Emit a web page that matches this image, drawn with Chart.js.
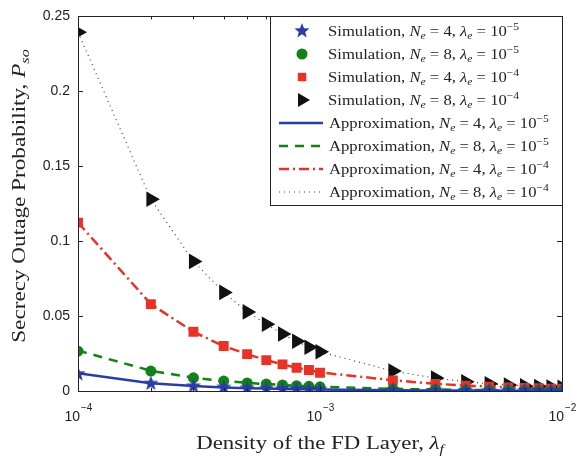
<!DOCTYPE html>
<html>
<head>
<meta charset="utf-8">
<script src="https://cdn.jsdelivr.net/npm/chart.js@4.4.0/dist/chart.umd.min.js"></script>
<style>
html, body { margin: 0; padding: 0; background: #fff; }
</style>
</head>
<body>
<canvas id="myChart" width="577" height="459"></canvas>
<script>
// x values (density of the FD layer)
let lambdaF = [1e-4, 2e-4, 3e-4, 4e-4, 5e-4, 6e-4, 7e-4, 8e-4, 9e-4, 1e-3,
    2e-3, 3e-3, 4e-3, 5e-3, 6e-3, 7e-3, 8e-3, 9e-3, 1e-2];

// simulation points
let simNe4L5 = [0.0113, 0.0050, 0.0032, 0.0024, 0.0019, 0.0016, 0.0013, 0.0012, 0.0011, 0.0010,
    0.0005, 0.0003, 0.0003, 0.0002, 0.0002, 0.0002, 0.0001, 0.0001, 0.0001];
let simNe8L5 = [0.0266, 0.0133, 0.0088, 0.0066, 0.0054, 0.0046, 0.0040, 0.0035, 0.0031, 0.0028,
    0.0014, 0.0010, 0.0007, 0.0006, 0.0005, 0.0004, 0.0004, 0.0003, 0.0003];
let simNe4L4 = [0.1124, 0.0580, 0.0395, 0.0300, 0.0246, 0.0206, 0.0178, 0.0155, 0.0140, 0.0122,
    0.0071, 0.0047, 0.0036, 0.0029, 0.0024, 0.0021, 0.0018, 0.0016, 0.0015];
let simNe8L4 = [0.2395, 0.1280, 0.0865, 0.0658, 0.0528, 0.0446, 0.0380, 0.0332, 0.0292, 0.0262,
    0.0133, 0.0086, 0.0062, 0.0048, 0.0040, 0.0034, 0.0030, 0.0026, 0.0024];

// approximation curves
let apxNe4L5 = [0.0118, 0.0052, 0.0033, 0.0024, 0.0019, 0.0016, 0.0013, 0.0012, 0.0011, 0.0010,
    0.0005, 0.0003, 0.0003, 0.0002, 0.0002, 0.0002, 0.0001, 0.0001, 0.0001];
let apxNe8L5 = [0.0270, 0.0135, 0.0089, 0.0067, 0.0054, 0.0046, 0.0040, 0.0035, 0.0031, 0.0028,
    0.0014, 0.0010, 0.0007, 0.0006, 0.0005, 0.0004, 0.0004, 0.0003, 0.0003];
let apxNe4L4 = [0.1124, 0.0580, 0.0395, 0.0300, 0.0246, 0.0206, 0.0178, 0.0155, 0.0140, 0.0124,
    0.0072, 0.0048, 0.0037, 0.0030, 0.0025, 0.0021, 0.0018, 0.0016, 0.0015];
let apxNe8L4 = [0.2395, 0.1280, 0.0865, 0.0658, 0.0528, 0.0446, 0.0380, 0.0332, 0.0292, 0.0262,
    0.0133, 0.0086, 0.0062, 0.0048, 0.0040, 0.0034, 0.0030, 0.0026, 0.0024];

// legend info
let neValues = [4, 8, 4, 8];
let lambdaExp = ['\u22125', '\u22125', '\u22124', '\u22124'];
let yTicks = [0, 0.05, 0.1, 0.15, 0.2, 0.25];
let xDecades = [1e-4, 1e-3, 1e-2];
let xDecadeExp = ['\u22124', '\u22123', '\u22122'];

let blue = 'rgb(42, 60, 165)';
let green = 'rgb(18, 130, 22)';
let red = 'rgb(232, 50, 40)';
let black = 'rgb(17, 17, 17)';

const serif = '"Liberation Serif", "DejaVu Serif", serif';
const sans = '"Liberation Sans", Arial, sans-serif';

function pts(arr) {
    return arr.map((v, i) => ({ x: lambdaF[i], y: v }));
}

// filled star marker
function makeStar(color, r) {
    let c = document.createElement('canvas');
    c.width = r * 2 + 2;
    c.height = r * 2 + 2;
    let g = c.getContext('2d');
    g.fillStyle = color;
    g.beginPath();
    for (let k = 0; k < 10; k++) {
        let rr = k % 2 === 0 ? r : r * 0.42;
        let a = -Math.PI / 2 + k * Math.PI / 5;
        let px = r + 1 + rr * Math.cos(a);
        let py = r + 1 + rr * Math.sin(a);
        if (k === 0) g.moveTo(px, py); else g.lineTo(px, py);
    }
    g.closePath();
    g.fill();
    return c;
}
let starImg = makeStar(blue, 8);

function simSet(data, color, style, radius, rot) {
    return {
        data: pts(data),
        showLine: false,
        pointStyle: style,
        pointRadius: radius,
        pointRotation: rot || 0,
        backgroundColor: color,
        borderColor: color,
        borderWidth: 0,
        pointHoverRadius: radius
    };
}
function apxSet(data, color, dash, width) {
    return {
        data: pts(data),
        showLine: true,
        borderColor: color,
        borderWidth: width,
        borderDash: dash,
        pointRadius: 0,
        tension: 0,
        fill: false
    };
}

let datasets = [
    simSet(simNe4L5, blue, starImg, 8),
    simSet(simNe8L5, green, 'circle', 5.5),
    simSet(simNe4L4, red, 'rect', 7),
    simSet(simNe8L4, black, 'triangle', 9, 90),
    apxSet(apxNe4L5, blue, [], 2.5),
    apxSet(apxNe8L5, green, [9, 7], 2.5),
    apxSet(apxNe4L4, red, [10, 4, 2, 4], 2.5),
    apxSet(apxNe8L4, 'rgb(60,60,60)', [1, 4], 1.2)
];

// draws text pieces with italics, sub- and superscripts, stretched sideways by k
function drawRich(ctx, x, y, parts, size, k) {
    ctx.textBaseline = 'alphabetic';
    ctx.textAlign = 'left';
    parts.forEach(p => {
        let s = p.sub || p.sup ? size * 0.7 : size;
        let dy = p.sub ? size * 0.22 : (p.sup ? -size * 0.42 : 0);
        ctx.font = (p.i ? 'italic ' : '') + s + 'px ' + serif;
        ctx.save();
        ctx.translate(x, y + dy);
        ctx.scale(k, 1);
        ctx.fillText(p.t, 0, 0);
        ctx.restore();
        x += ctx.measureText(p.t).width * k;
    });
    return x;
}
function richWidth(ctx, parts, size, k) {
    let w = 0;
    parts.forEach(p => {
        let s = p.sub || p.sup ? size * 0.7 : size;
        ctx.font = (p.i ? 'italic ' : '') + s + 'px ' + serif;
        w += ctx.measureText(p.t).width * k;
    });
    return w;
}

function legendParts(name, i) {
    return [
        { t: name + ', ' },
        { t: 'N', i: true },
        { t: 'e', i: true, sub: true },
        { t: ' = ' + neValues[i] + ', ' },
        { t: '\u03bb', i: true },
        { t: 'e', i: true, sub: true },
        { t: ' = 10' },
        { t: lambdaExp[i], sup: true }
    ];
}

const decorPlugin = {
    id: 'decor',
    afterDraw(chart) {
        let ctx = chart.ctx;
        let a = chart.chartArea;
        let xs = chart.scales.x;
        let ys = chart.scales.y;
        ctx.save();

        // inward tick marks
        ctx.strokeStyle = '#222';
        ctx.lineWidth = 1;
        ctx.setLineDash([]);
        ctx.beginPath();
        yTicks.forEach(v => {
            let py = Math.round(ys.getPixelForValue(v)) + 0.5;
            ctx.moveTo(a.left, py); ctx.lineTo(a.left + 5, py);
            ctx.moveTo(a.right, py); ctx.lineTo(a.right - 5, py);
        });
        [1e-4, 1e-3].forEach(d => {
            for (let k = 1; k <= 9; k++) {
                let px = Math.round(xs.getPixelForValue(k * d)) + 0.5;
                let len = k === 1 ? 5 : 3;
                ctx.moveTo(px, a.bottom); ctx.lineTo(px, a.bottom - len);
                ctx.moveTo(px, a.top); ctx.lineTo(px, a.top + len);
            }
        });
        ctx.stroke();

        // axes box
        ctx.strokeRect(Math.round(a.left) + 0.5, Math.round(a.top) + 0.5,
            Math.round(a.right - a.left), Math.round(a.bottom - a.top));

        // x tick labels 10^n
        ctx.fillStyle = '#222';
        xDecades.forEach((v, i) => {
            let px = xs.getPixelForValue(v);
            ctx.font = '14px ' + sans;
            ctx.textAlign = 'right';
            ctx.textBaseline = 'alphabetic';
            ctx.fillText('10', px + 2, 421);
            ctx.font = '10px ' + sans;
            ctx.textAlign = 'left';
            ctx.fillText(xDecadeExp[i], px + 3, 411);
        });

        // axis titles
        ctx.fillStyle = '#222';
        let xt = [
            { t: 'Density of the FD Layer, ' },
            { t: '\u03bb', i: true },
            { t: 'f', i: true, sub: true }
        ];
        let w = richWidth(ctx, xt, 19, 1.2);
        drawRich(ctx, (a.left + a.right) / 2 - w / 2, 449, xt, 19, 1.2);

        let yt = [
            { t: 'Secrecy Outage Probability, ' },
            { t: 'P', i: true },
            { t: 'so', i: true, sub: true }
        ];
        ctx.save();
        ctx.translate(25, 196);
        ctx.rotate(-Math.PI / 2);
        w = richWidth(ctx, yt, 19, 1.22);
        drawRich(ctx, -w / 2, 0, yt, 19, 1.22);
        ctx.restore();

        // legend box
        let lw = 292, lh = 189;
        let lx = Math.round(a.right) - lw, ly = Math.round(a.top);
        ctx.fillStyle = '#fff';
        ctx.fillRect(lx, ly, lw, lh);
        ctx.strokeStyle = '#222';
        ctx.lineWidth = 1;
        ctx.strokeRect(lx + 0.5, ly + 0.5, lw, lh);

        for (let i = 0; i < 8; i++) {
            let ry = ly + 15 + i * 23;
            let ds = chart.data.datasets[i];
            if (i < 4) {
                ctx.fillStyle = ds.backgroundColor;
                ctx.strokeStyle = ds.borderColor;
                Chart.helpers.drawPoint(ctx, {
                    pointStyle: ds.pointStyle,
                    radius: i === 3 ? 8 : (i === 2 ? 6 : ds.pointRadius),
                    rotation: ds.pointRotation,
                    borderWidth: 0
                }, lx + 32, ry);
            } else {
                ctx.strokeStyle = ds.borderColor;
                ctx.lineWidth = ds.borderWidth;
                ctx.setLineDash(ds.borderDash);
                ctx.beginPath();
                ctx.moveTo(lx + 9, ry);
                ctx.lineTo(lx + 53, ry);
                ctx.stroke();
                ctx.setLineDash([]);
            }
            ctx.fillStyle = '#222';
            let name = i < 4 ? 'Simulation' : 'Approximation';
            drawRich(ctx, lx + (i < 4 ? 58 : 59), ry + 5, legendParts(name, i % 4), 15, 1.11);
        }
        ctx.restore();
    }
};

let myChart = new Chart(document.getElementById('myChart'), {
    type: 'scatter',
    data: { datasets: datasets },
    options: {
        responsive: false,
        animation: false,
        layout: { padding: { top: 14, right: 15, left: 0, bottom: 0 } },
        plugins: {
            legend: { display: false },
            tooltip: { enabled: false }
        },
        scales: {
            x: {
                type: 'logarithmic',
                min: 1e-4,
                max: 1e-2,
                grid: { display: false },
                border: { display: false },
                ticks: { display: false },
                afterFit: s => { s.height = 68; }
            },
            y: {
                min: 0,
                max: 0.25,
                grid: { display: false, drawTicks: false },
                border: { display: false },
                ticks: {
                    stepSize: 0.05,
                    padding: 8,
                    color: '#222',
                    font: { family: sans, size: 14 },
                    callback: v => String(+v.toFixed(2))
                },
                afterFit: s => { s.width = 78; }
            }
        }
    },
    plugins: [decorPlugin]
});
</script>
</body>
</html>
